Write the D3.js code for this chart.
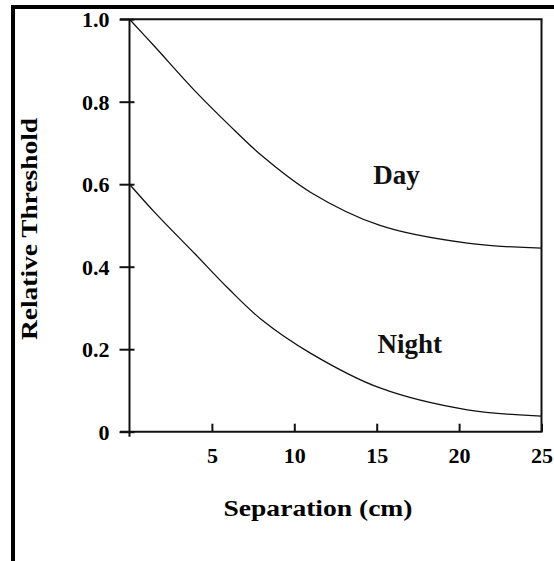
<!DOCTYPE html>
<html><head><meta charset="utf-8">
<script src="https://cdn.jsdelivr.net/npm/d3@7"></script>
<style>body{margin:0;background:#fff}svg{display:block}</style>
</head><body>
<script>
const separation = [0, 1.5, 4, 6, 8, 11, 15.2, 20.5, 25];
const dayThreshold = [1.0, 0.935, 0.825, 0.745, 0.67, 0.58, 0.50, 0.457, 0.445];
const nightThreshold = [0.6, 0.533, 0.43, 0.347, 0.272, 0.19, 0.106, 0.053, 0.038];
const xTicks = [5, 10, 15, 20, 25];
const yTicks = [0, 0.2, 0.4, 0.6, 0.8, 1.0];
const seriesLabels = [{name:"Day", x:16.2, y:0.6}, {name:"Night", x:17, y:0.19}];

const W = 554, H = 561;
const svg = d3.select("body").append("svg").attr("width", W).attr("height", H);
const x = d3.scaleLinear().domain([0, 25]).range([129.5, 541.5]);
const y = d3.scaleLinear().domain([0, 1]).range([431.7, 19.2]);
const font = "Liberation Serif";

// outer frame
svg.append("rect").attr("x", 11).attr("y", 5).attr("width", W).attr("height", 4).attr("fill", "#000");
svg.append("rect").attr("x", 11).attr("y", 5).attr("width", 4).attr("height", H).attr("fill", "#000");

// plot box lines
const g = svg.append("g").attr("stroke", "#111").attr("stroke-width", 2).attr("fill", "none");
g.append("line").attr("x1", 120).attr("x2", x(25)+1).attr("y1", y(1)).attr("y2", y(1));
g.append("line").attr("x1", x(25)).attr("x2", x(25)).attr("y1", y(1)).attr("y2", y(0));
g.append("line").attr("x1", 120).attr("x2", x(25)+1).attr("y1", y(0)).attr("y2", y(0));
g.append("line").attr("x1", x(0)).attr("x2", x(0)).attr("y1", y(1)).attr("y2", y(0)+5);

// y axis
const yAxis = d3.axisLeft(y).tickValues(yTicks).tickSize(10).tickPadding(10)
  .tickFormat(d => d === 0 ? "0" : d3.format(".1f")(d));
const ya = svg.append("g").attr("transform", `translate(${x(0)},0)`).call(yAxis)
  .attr("font-family", font).attr("font-size", 22);
ya.select(".domain").remove();
ya.selectAll(".tick line").attr("x1", 5).attr("x2", -10).attr("stroke", "#111").attr("stroke-width", 2);
ya.selectAll(".tick text").style("font-family", font).attr("font-weight", "bold")
  .attr("fill", "#000").attr("dy", "0.35em");

// x axis
const xAxis = d3.axisBottom(x).tickValues(xTicks).tickSize(-8).tickPadding(16).tickFormat(d3.format("d"));
const xa = svg.append("g").attr("transform", `translate(0,${y(0)})`).call(xAxis)
  .attr("font-family", font).attr("font-size", 22);
xa.select(".domain").remove();
xa.selectAll(".tick line").attr("stroke", "#111").attr("stroke-width", 2);
xa.selectAll(".tick text").style("font-family", font).attr("font-weight", "bold")
  .attr("fill", "#000").attr("dy", "0.71em");

// curves
const line = d3.line().x(d => x(d[0])).y(d => y(d[1])).curve(d3.curveCatmullRom.alpha(0.5));
[dayThreshold, nightThreshold].forEach(vals => {
  svg.append("path").datum(separation.map((s, i) => [s, vals[i]]))
    .attr("d", line).attr("fill", "none").attr("stroke", "#111").attr("stroke-width", 1.3);
});

// series labels
svg.selectAll("text.series").data(seriesLabels).enter().append("text")
  .attr("class", "series").attr("x", d => x(d.x)).attr("y", d => y(d.y))
  .attr("text-anchor", "middle").style("font-family", font).attr("font-size", 27)
  .attr("font-weight", "bold").attr("fill", "#111").text(d => d.name);

// axis titles
svg.append("text").attr("x", 318).attr("y", 516).attr("text-anchor", "middle")
  .style("font-family", font).attr("font-weight", "bold").attr("font-size", 24)
  .attr("textLength", 189).attr("lengthAdjust", "spacingAndGlyphs").text("Separation (cm)");
svg.append("text").attr("transform", "translate(37,229) rotate(-90)").attr("text-anchor", "middle")
  .style("font-family", font).attr("font-weight", "bold").attr("font-size", 24)
  .attr("textLength", 222).attr("lengthAdjust", "spacingAndGlyphs").text("Relative Threshold");
</script>
</body></html>
